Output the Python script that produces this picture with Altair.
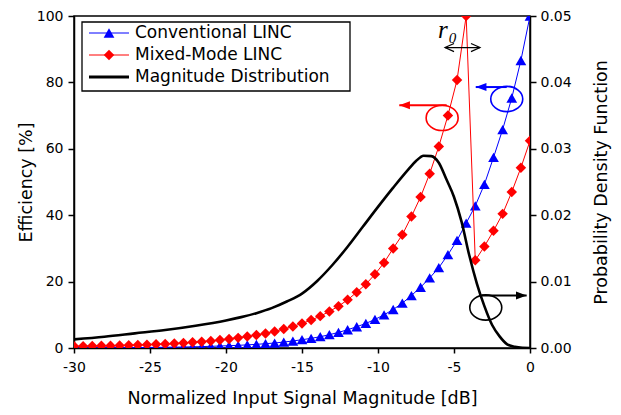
import altair as alt
import pandas as pd

# ---------------- data ----------------
x_db = [-30.0, -29.4, -28.8, -28.2, -27.6, -27.0, -26.4, -25.8, -25.2, -24.6,
        -24.0, -23.4, -22.8, -22.2, -21.6, -21.0, -20.4, -19.8, -19.2, -18.6,
        -18.0, -17.4, -16.8, -16.2, -15.6, -15.0, -14.4, -13.8, -13.2, -12.6,
        -12.0, -11.4, -10.8, -10.2, -9.6, -9.0, -8.4, -7.8, -7.2, -6.6,
        -6.0, -5.4, -4.8, -4.2, -3.6, -3.0, -2.4, -1.8, -1.2, -0.6, 0.0]

conv_eff = [0.05, 0.06, 0.07, 0.08, 0.09, 0.10, 0.12, 0.14, 0.16, 0.19,
            0.22, 0.26, 0.30, 0.36, 0.42, 0.50, 0.60, 0.70, 0.80, 0.95,
            1.10, 1.30, 1.50, 1.80, 2.10, 2.50, 2.90, 3.40, 4.00, 4.70,
            5.50, 6.40, 7.40, 8.60, 10.0, 11.6, 13.5, 15.8, 18.3, 21.1,
            24.2, 28.1, 32.4, 37.6, 42.8, 49.3, 57.4, 65.8, 75.3, 86.6, 100.0]

mixed_eff = [0.5, 0.55, 0.6, 0.65, 0.7, 0.75, 0.8, 0.9, 1.0, 1.1,
             1.2, 1.35, 1.5, 1.7, 1.9, 2.1, 2.4, 2.7, 3.05, 3.45,
             3.9, 4.4, 5.0, 5.7, 6.5, 7.4, 8.4, 9.6, 11.0, 12.6,
             14.5, 16.8, 19.2, 22.2, 25.7, 30.0, 34.1, 39.6, 45.5, 52.5,
             60.7, 70.0, 80.7, 100.0, 26.4, 30.6, 35.3, 40.4, 47.0, 54.3, 62.4]

pdf_db = [-30, -28, -26, -24, -22, -20, -19, -18, -17, -16, -15, -14, -13, -12,
          -11, -10, -9, -8, -7.5, -7, -6.5, -6, -5.5, -5, -4.5, -4, -3.5, -3,
          -2.5, -2, -1.5, -1, -0.5, 0]
pdf_val = [0.0013, 0.0017, 0.0022, 0.0027, 0.00335, 0.00415, 0.00465, 0.00525,
           0.006, 0.007, 0.0082, 0.0101, 0.0125, 0.01525, 0.01825, 0.02125,
           0.02415, 0.0269, 0.02815, 0.02895, 0.0289, 0.0279, 0.0254, 0.02275,
           0.019, 0.014, 0.00975, 0.0063, 0.0035, 0.00175, 0.00055, 0.000175,
           0.00003, 0.0]

series = ["Conventional LINC", "Mixed-Mode LINC", "Magnitude Distribution"]
colors = ["#0000ff", "#ff0000", "#000000"]

x_ticks = [-30, -25, -20, -15, -10, -5, 0]
eff_ticks = [0, 20, 40, 60, 80, 100]
pdf_ticks = [0.0, 0.01, 0.02, 0.03, 0.04, 0.05]

# annotations (data coordinates: dB, %)
ell_x = [-5.78, -1.53, -2.91]
ell_y = [69.3, 75.0, 12.2]
arr_x0 = [-5.48, -1.53, -3.18]
arr_x1 = [-8.6, -3.57, -0.22]
arr_y = [73.1, 78.6, 15.8]
arr_dir = ["left", "left", "right"]
r0_x = [-5.59, -3.29]
r0_y = 90.5
r0_text = ["r", "0"]
r0_text_x = [-5.74, -5.1]
r0_text_y = [93.45, 91.9]
r0_text_size = [25, 15]

FONT = "DejaVu Sans"
PLOT_H = 332

# ---------------- shapes ----------------
k = 0.5523
e = 0.79
ELLIPSE = (f"M -1 0 C -1 {-k*e:.4f} {-k:.4f} {-e} 0 {-e} "
           f"C {k:.4f} {-e} 1 {-k*e:.4f} 1 0 "
           f"C 1 {k*e:.4f} {k:.4f} {e} 0 {e} "
           f"C {-k:.4f} {e} -1 {k*e:.4f} -1 0 Z")
HEAD = {"left": "M 0 0 L 2 -0.75 L 2 0.75 Z", "right": "M 0 0 L -2 -0.75 L -2 0.75 Z"}
CHEV = ["M 2 -0.9 L 0 0 L 2 0.9", "M -2 -0.9 L 0 0 L -2 0.9"]

# ---------------- encodings ----------------
xaxis = alt.Axis(values=x_ticks, labelExpr="'' + datum.value", labelFlush=False,
                 tickSize=5, tickWidth=1.5, tickColor="black", labelPadding=7,
                 labelFontSize=14, labelColor="black", domainColor="black", domainWidth=1.5,
                 grid=False, title="Normalized Input Signal Magnitude [dB]",
                 titleFontSize=17.5, titleFontWeight="normal", titleColor="black",
                 titleY=55, titleBaseline="alphabetic")
X = alt.X("x:Q", scale=alt.Scale(domain=[-30, 0], nice=False, zero=False), axis=xaxis)

yaxis_l = alt.Axis(values=eff_ticks, tickSize=6, tickWidth=1.5, tickColor="black",
                   labelPadding=5, labelFontSize=14, labelColor="black",
                   domainColor="black", domainWidth=1.5, grid=False,
                   title="Efficiency [%]", titleFontSize=17.5, titleFontWeight="normal",
                   titleColor="black", titleAngle=270, titleX=-43, titleY=PLOT_H / 2,
                   titleAlign="center", titleBaseline="alphabetic", labelFlush=False)
YL = alt.Y("y:Q", scale=alt.Scale(domain=[0, 100], nice=False), axis=yaxis_l)

yaxis_r = alt.Axis(values=pdf_ticks, format=".2f", orient="right", tickSize=6, tickWidth=1.5,
                   tickColor="black", labelPadding=4, labelFontSize=14, labelColor="black",
                   domainColor="black", domainWidth=1.5, grid=False,
                   title="Probability Density Function", titleFontSize=17.5,
                   titleFontWeight="normal", titleColor="black", titleAngle=270,
                   titleX=76, titleY=PLOT_H / 2, titleAlign="center", titleBaseline="alphabetic",
                   labelFlush=False)
YR = alt.Y("pdf:Q", scale=alt.Scale(domain=[0, 0.05], nice=False), axis=yaxis_r)

conv_df = pd.DataFrame({"x": x_db, "y": conv_eff})
mixed_df = pd.DataFrame({"x": x_db, "y": mixed_eff})
pdf_df = pd.DataFrame({"x": pdf_db, "pdf": pdf_val})

blue_line = alt.Chart(conv_df).mark_line(color=colors[0], strokeWidth=1, clip=True).encode(x=X, y=YL)
blue_pts = alt.Chart(conv_df).mark_point(shape="triangle-up", filled=True, size=115, opacity=1,
                                          color=colors[0], clip=True).encode(x=X, y=YL)
red_line = alt.Chart(mixed_df).mark_line(color=colors[1], strokeWidth=1, clip=True).encode(x=X, y=YL)
red_pts = alt.Chart(mixed_df).mark_point(shape="diamond", filled=True, size=110, opacity=1,
                                         color=colors[1], clip=True).encode(x=X, y=YL)

ann_col = [colors[1], colors[0], colors[2]]
ell_df = pd.DataFrame({"x": ell_x, "y": ell_y, "c": ann_col})
ellipses = alt.Chart(ell_df).mark_point(shape=ELLIPSE, size=1024, filled=False, strokeWidth=1.6,
                                        opacity=1).encode(
    x=X, y=YL, color=alt.Color("c:N", scale=None))
shaft_df = pd.DataFrame({"x": arr_x0, "x2": arr_x1, "y": arr_y, "c": ann_col})
shafts = alt.Chart(shaft_df).mark_rule(strokeWidth=2).encode(
    x=X, x2="x2:Q", y=YL, color=alt.Color("c:N", scale=None))
head_df = pd.DataFrame({"x": arr_x1, "y": arr_y, "c": ann_col,
                        "shape": [HEAD[d] for d in arr_dir]})
heads = alt.Chart(head_df).mark_point(filled=True, size=114, opacity=1, strokeWidth=0).encode(
    x=X, y=YL, color=alt.Color("c:N", scale=None), shape=alt.Shape("shape:N", scale=None))

r0_df = pd.DataFrame({"x": [r0_x[0]], "x2": [r0_x[1]], "y": [r0_y]})
r0_line = alt.Chart(r0_df).mark_rule(strokeWidth=1.2, color="black").encode(x=X, x2="x2:Q", y=YL)
chev_df = pd.DataFrame({"x": r0_x, "y": [r0_y, r0_y], "shape": CHEV})
r0_heads = alt.Chart(chev_df).mark_point(filled=False, size=81, opacity=1, strokeWidth=1.2,
                                         color="black").encode(
    x=X, y=YL, shape=alt.Shape("shape:N", scale=None))
r0_lab_df = pd.DataFrame({"x": r0_text_x, "y": r0_text_y, "t": r0_text, "s": r0_text_size})
r0_labels = alt.Chart(r0_lab_df).mark_text(font="Liberation Serif", fontStyle="italic",
                                           align="center", baseline="alphabetic",
                                           color="black").encode(
    x=X, y=YL, text="t:N", size=alt.Size("s:Q", scale=None))

left = alt.layer(blue_line, blue_pts, red_line, red_pts, ellipses, shafts, heads,
                 r0_line, r0_heads, r0_labels)

pdf_line = alt.Chart(pdf_df).mark_line(color="black", strokeWidth=2.6, interpolate="monotone",
                                       clip=True).encode(x=X, y=YR)

# ---------------- legend (box inside the plot, top-left) ----------------
row_y = [17, 39, 61]
box = alt.Chart(pd.DataFrame({"a": [0]})).mark_rect(fill="white", stroke="black",
                                                    strokeWidth=1.3).encode(
    x=alt.value(8), x2=alt.value(276), y=alt.value(6), y2=alt.value(75))
legend_layers = [box]
leg_shapes = ["triangle-up", "diamond", None]
leg_sizes = [115, 110, 0]
leg_widths = [1, 1, 3]
for i, name in enumerate(series):
    row = pd.DataFrame({"label": [name]})
    legend_layers.append(alt.Chart(row).mark_rule(color=colors[i], strokeWidth=leg_widths[i]).encode(
        x=alt.value(15), x2=alt.value(55), y=alt.value(row_y[i])))
    if leg_shapes[i]:
        legend_layers.append(alt.Chart(row).mark_point(shape=leg_shapes[i], filled=True,
                                                       size=leg_sizes[i], opacity=1,
                                                       color=colors[i]).encode(
            x=alt.value(35), y=alt.value(row_y[i])))
    legend_layers.append(alt.Chart(row).mark_text(align="left", baseline="middle", fontSize=17,
                                                  font=FONT, color="black").encode(
        x=alt.value(61), y=alt.value(row_y[i]), text="label:N"))

chart = alt.layer(left, pdf_line, *legend_layers).resolve_scale(y="independent").properties(
    width=456, height=PLOT_H,
    autosize=alt.AutoSizeParams(type="none"),
    padding={"left": 66, "top": 8, "right": 83, "bottom": 64},
).configure(font=FONT).configure_view(stroke="black", strokeWidth=1.5)

chart.save("out.html", embed_options={"renderer": "svg", "actions": False})
